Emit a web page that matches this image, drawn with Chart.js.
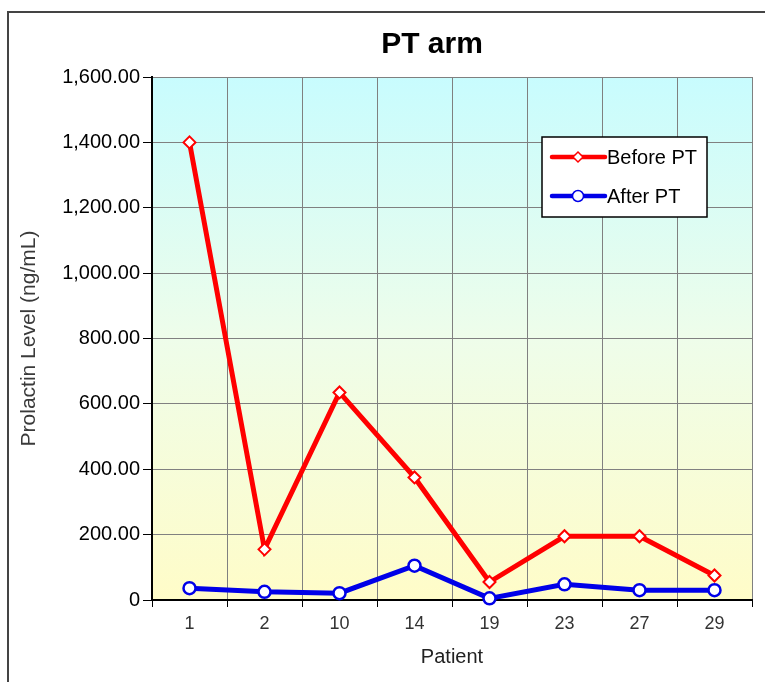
<!DOCTYPE html>
<html lang="en">
<head>
    <meta charset="UTF-8">
    <title>PT arm</title>
    <script src="https://cdn.jsdelivr.net/npm/chart.js@4.4.1/dist/chart.umd.min.js"></script>
    <style>
        html, body { margin: 0; padding: 0; background: #fff; overflow: hidden; }
        #wrap { width: 765px; height: 682px; overflow: hidden; }
        canvas { display: block; }
    </style>
</head>
<body>
    <div id="wrap">
        <canvas id="ptChart" width="860" height="682"></canvas>
    </div>

    <script>
        // data
        const patients = ['1', '2', '10', '14', '19', '23', '27', '29'];
        const beforePT = [1400, 155, 635, 375, 55, 195, 195, 75];
        const afterPT = [36, 25, 21, 105, 5, 48, 30, 30];
        const yTickValues = [0, 200, 400, 600, 800, 1000, 1200, 1400, 1600];
        const yTickLabels = ['0', '200.00', '400.00', '600.00', '800.00', '1,000.00', '1,200.00', '1,400.00', '1,600.00'];
        const chartTitle = 'PT arm';

        const FONT = "'Liberation Sans', Arial, sans-serif";

        // white page, outer frame (cut off at right/bottom) and gradient plot background
        const backgroundPlugin = {
            id: 'background',
            beforeDraw(chart) {
                const ctx = chart.ctx;
                const a = chart.chartArea;
                ctx.save();
                ctx.fillStyle = '#fff';
                ctx.fillRect(0, 0, chart.width, chart.height);
                ctx.strokeStyle = '#444';
                ctx.lineWidth = 2;
                ctx.strokeRect(8, 12, chart.width + 20, chart.height + 20);
                const g = ctx.createLinearGradient(0, a.top, 0, a.bottom);
                g.addColorStop(0, '#c8fcfe');
                g.addColorStop(0.5, '#eefdea');
                g.addColorStop(1, '#fffcc8');
                ctx.fillStyle = g;
                ctx.fillRect(a.left, a.top, a.right - a.left, a.bottom - a.top);
                // title, centred on the whole frame
                ctx.fillStyle = '#000';
                ctx.font = 'bold 30px ' + FONT;
                ctx.textAlign = 'center';
                ctx.textBaseline = 'middle';
                ctx.fillText(chartTitle, 432, 45);
                ctx.restore();
            }
        };

        // boxed legend inside the plot, upper right
        const boxLegendPlugin = {
            id: 'boxLegend',
            afterDatasetsDraw(chart) {
                const ctx = chart.ctx;
                const x = 542, y = 137, w = 165, h = 80;
                ctx.save();
                ctx.fillStyle = '#fff';
                ctx.fillRect(x, y, w, h);
                ctx.strokeStyle = '#000';
                ctx.lineWidth = 1.5;
                ctx.strokeRect(x, y, w, h);
                chart.data.datasets.forEach((ds, i) => {
                    const cy = y + 20 + i * 39;
                    const mx = x + 36;
                    ctx.strokeStyle = ds.borderColor;
                    ctx.lineWidth = 4.5;
                    ctx.lineCap = 'round';
                    ctx.beginPath();
                    ctx.moveTo(x + 10, cy);
                    ctx.lineTo(x + 63, cy);
                    ctx.stroke();
                    ctx.fillStyle = ds.pointBackgroundColor;
                    ctx.strokeStyle = ds.pointBorderColor;
                    ctx.lineWidth = 1.5;
                    ctx.beginPath();
                    if (ds.pointStyle === 'circle') {
                        ctx.arc(mx, cy, 5.5, 0, Math.PI * 2);
                    } else {
                        const r = 5;
                        ctx.moveTo(mx, cy - r);
                        ctx.lineTo(mx + r, cy);
                        ctx.lineTo(mx, cy + r);
                        ctx.lineTo(mx - r, cy);
                        ctx.closePath();
                    }
                    ctx.fill();
                    ctx.stroke();
                    ctx.fillStyle = '#000';
                    ctx.font = '20px ' + FONT;
                    ctx.textBaseline = 'middle';
                    ctx.textAlign = 'left';
                    ctx.fillText(ds.label, x + 65, cy + 1);
                });
                ctx.restore();
            }
        };

        new Chart(document.getElementById('ptChart'), {
            type: 'line',
            data: {
                labels: patients,
                datasets: [{
                    label: 'Before PT',
                    data: beforePT,
                    borderColor: '#ff0000',
                    borderWidth: 5,
                    pointStyle: 'rectRot',
                    pointRadius: 6,
                    pointBorderWidth: 2,
                    pointBackgroundColor: '#fff',
                    pointBorderColor: '#ff0000',
                    tension: 0,
                    clip: false
                }, {
                    label: 'After PT',
                    data: afterPT,
                    borderColor: '#0000e8',
                    borderWidth: 5,
                    pointStyle: 'circle',
                    pointRadius: 6,
                    pointBorderWidth: 2.5,
                    pointBackgroundColor: '#fff',
                    pointBorderColor: '#0000e8',
                    tension: 0,
                    clip: false
                }]
            },
            options: {
                responsive: false,
                animation: false,
                layout: { padding: { left: 8, right: 108, top: 77, bottom: 0 } },
                plugins: {
                    legend: { display: false },
                    tooltip: { enabled: false },
                    title: { display: false }
                },
                scales: {
                    x: {
                        offset: true,
                        grid: { offset: true, color: '#808080', lineWidth: 1, tickColor: '#000', tickLength: 7 },
                        border: { color: '#000', width: 2 },
                        ticks: { color: '#333', font: { family: FONT, size: 18 }, padding: 6, maxRotation: 0 },
                        title: {
                            display: true,
                            text: 'Patient',
                            color: '#222',
                            font: { family: FONT, size: 20, lineHeight: 1.2 },
                            padding: { top: 0, bottom: 13 }
                        },
                        afterFit(scale) { scale.height = 82; }
                    },
                    y: {
                        min: 0,
                        max: 1600,
                        afterBuildTicks(scale) {
                            scale.ticks = yTickValues.map(v => ({ value: v }));
                        },
                        grid: { color: '#808080', lineWidth: 1, tickColor: '#000', tickLength: 9 },
                        border: { color: '#000', width: 2 },
                        ticks: {
                            color: '#000',
                            font: { family: FONT, size: 20 },
                            padding: 3,
                            callback: (value, index) => yTickLabels[index]
                        },
                        title: {
                            display: true,
                            text: 'Prolactin Level (ng/mL)',
                            color: '#3a3a3a',
                            font: { family: FONT, size: 21, lineHeight: 1.2 },
                            padding: { top: 9, bottom: 0 }
                        },
                        afterFit(scale) { scale.width = 144; }
                    }
                }
            },
            plugins: [backgroundPlugin, boxLegendPlugin]
        });
    </script>
</body>
</html>
